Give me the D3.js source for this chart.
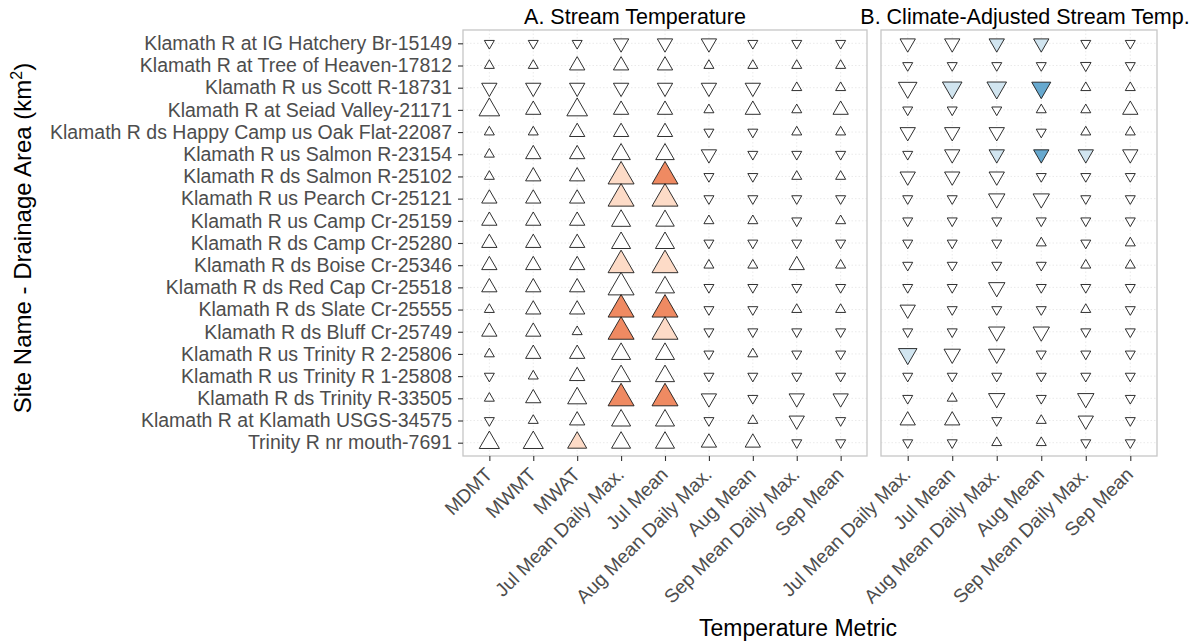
<!DOCTYPE html>
<html>
<head>
<meta charset="utf-8">
<script src="https://cdn.jsdelivr.net/npm/d3@7"></script>
<style>
  html, body { margin: 0; padding: 0; background: #fff; }
  svg { display: block; font-family: "Liberation Sans", Arial, sans-serif; }
</style>
</head>
<body>
<svg id="chart" width="1192" height="642"></svg>
<script>
const sites = [
  "Klamath R at IG Hatchery Br-15149",
  "Klamath R at Tree of Heaven-17812",
  "Klamath R us Scott R-18731",
  "Klamath R at Seiad Valley-21171",
  "Klamath R ds Happy Camp us Oak Flat-22087",
  "Klamath R us Salmon R-23154",
  "Klamath R ds Salmon R-25102",
  "Klamath R us Pearch Cr-25121",
  "Klamath R us Camp Cr-25159",
  "Klamath R ds Camp Cr-25280",
  "Klamath R ds Boise Cr-25346",
  "Klamath R ds Red Cap Cr-25518",
  "Klamath R ds Slate Cr-25555",
  "Klamath R ds Bluff Cr-25749",
  "Klamath R us Trinity R 2-25806",
  "Klamath R us Trinity R 1-25808",
  "Klamath R ds Trinity R-33505",
  "Klamath R at Klamath USGS-34575",
  "Trinity R nr mouth-7691"
];
const metricsA = ["MDMT","MWMT","MWAT","Jul Mean Daily Max.","Jul Mean","Aug Mean Daily Max.","Aug Mean","Sep Mean Daily Max.","Sep Mean"];
const metricsB = ["Jul Mean Daily Max.","Jul Mean","Aug Mean Daily Max.","Aug Mean","Sep Mean Daily Max.","Sep Mean"];

// signed trend magnitude: sign = direction, |value| = magnitude
const trendA = [
  [-1,-1,-1,-2,-2,-2,-1,-1,-1],
  [1,1,2,2,2,1,1,1,1],
  [-2,-2,-2,-2,-2,-2,-2,1,1],
  [3,2,3,2,2,1,2,1,2],
  [1,1,2,2,2,-1,-1,1,1],
  [1,2,2,2.6,2.6,-2,-1,-1,-1],
  [1,2,2,4,4,-1,-1,1,1],
  [2,2,2,4,4,-1,-1,-1,-1],
  [2,2,2,2.7,2.6,1,1,-1,1],
  [2,2,2,2.7,2.7,-1,-1,-1,-1],
  [2,2,2,4,4,1,1,2,1],
  [2,2,2,4,2.7,-1,-1,-1,-1],
  [1,2,2,4,4,-1,-1,1,1],
  [2,2,1,4,4,-1,-1,-1,-1],
  [1,2,2,2.7,2.7,-1,1,-1,-1],
  [-1,1,2,2.7,2.7,-1,-1,-1,-1],
  [1,2,2.7,4,4,-2,-1,-2,-2],
  [-1,1,2,2.7,2.7,-1,1,-2,-1],
  [2.9,2.9,2.7,2.7,2.7,2,2,-1,-1]
];
// significance class: 0 none, 1 weak, 2 strong
const sigA = [
  [0,0,0,0,0,0,0,0,0],
  [0,0,0,0,0,0,0,0,0],
  [0,0,0,0,0,0,0,0,0],
  [0,0,0,0,0,0,0,0,0],
  [0,0,0,0,0,0,0,0,0],
  [0,0,0,0,0,0,0,0,0],
  [0,0,0,1,2,0,0,0,0],
  [0,0,0,1,1,0,0,0,0],
  [0,0,0,0,0,0,0,0,0],
  [0,0,0,0,0,0,0,0,0],
  [0,0,0,1,1,0,0,0,0],
  [0,0,0,0,0,0,0,0,0],
  [0,0,0,2,2,0,0,0,0],
  [0,0,0,2,1,0,0,0,0],
  [0,0,0,0,0,0,0,0,0],
  [0,0,0,0,0,0,0,0,0],
  [0,0,0,2,2,0,0,0,0],
  [0,0,0,0,0,0,0,0,0],
  [0,0,1,0,0,0,0,0,0]
];
const trendB = [
  [-2,-2,-2,-2,-1,-1],
  [-1,-1,-1,-1,-1.1,-1],
  [-2.6,-2.8,-2.8,-2.7,1,1],
  [-1,-1,-1,1,1,2],
  [-2,-2,-2,-1,1,1],
  [-1,-2,-2,-2,-2,-2],
  [-2,-2,-2,-1,-1,-1],
  [-1,-1,-2.2,-2.2,-1,-1],
  [-1,-1,-1,-1,-1,-1],
  [-1,-1,-1,1,-1,1],
  [-1,-1,-1,-1,1,1],
  [-1,-1,-2.2,-1,-1,-1],
  [-2,-1,-1,-1,1,-1],
  [-1,-1,-2.2,-2.2,-1,-1],
  [-2.6,-2.2,-2.2,-1,-1,-1],
  [-1,-1,-1,-1,-1,-1],
  [-1,1,-2.2,-1,-2.2,-1],
  [2,2,-1,1,-2,-1],
  [-1,-1,1,1,-1,-1]
];
const sigB = [
  [0,0,1,1,0,0],
  [0,0,0,0,0,0],
  [0,1,1,2,0,0],
  [0,0,0,0,0,0],
  [0,0,0,0,0,0],
  [0,0,1,2,1,0],
  [0,0,0,0,0,0],
  [0,0,0,0,0,0],
  [0,0,0,0,0,0],
  [0,0,0,0,0,0],
  [0,0,0,0,0,0],
  [0,0,0,0,0,0],
  [0,0,0,0,0,0],
  [0,0,0,0,0,0],
  [1,0,0,0,0,0],
  [0,0,0,0,0,0],
  [0,0,0,0,0,0],
  [0,0,0,0,0,0],
  [0,0,0,0,0,0]
];
const titles = ["A. Stream Temperature", "B. Climate-Adjusted Stream Temp."];

const svg = d3.select("#chart");
const plotTop = 30, plotBottom = 456;
const panels = [
  {x0: 463, x1: 867, metrics: metricsA, trend: trendA, sig: sigA, title: titles[0], titleX: 635},
  {x0: 881, x1: 1157, metrics: metricsB, trend: trendB, sig: sigB, title: titles[1], titleX: 1025}
];

const y = d3.scalePoint().domain(sites).range([plotTop, plotBottom]).padding(0.6);
const widthScale = d3.scaleLinear().domain([1, 4]).range([10, 26]);
const fillUp = ["#ffffff", "#fddbc7", "#ef8a62"];
const fillDown = ["#ffffff", "#d1e5f0", "#67a9cf"];
const sym = d3.symbol().type(d3.symbolTriangle);

panels.forEach((p) => {
  const x = d3.scalePoint().domain(p.metrics).range([p.x0, p.x1]).padding(0.6);
  const g = svg.append("g");
  g.append("rect").attr("x", p.x0).attr("y", plotTop).attr("width", p.x1 - p.x0).attr("height", plotBottom - plotTop)
    .attr("fill", "#fff");
  g.selectAll(".gh").data(sites).enter().append("line")
    .attr("x1", p.x0).attr("x2", p.x1).attr("y1", d => y(d)).attr("y2", d => y(d))
    .attr("stroke", "#e4e4e4").attr("stroke-width", 0.8).attr("stroke-dasharray", "1.5,2");
  g.selectAll(".gv").data(p.metrics).enter().append("line")
    .attr("y1", plotTop).attr("y2", plotBottom).attr("x1", d => x(d)).attr("x2", d => x(d))
    .attr("stroke", "#e4e4e4").attr("stroke-width", 0.8).attr("stroke-dasharray", "1.5,2");
  const pts = [];
  sites.forEach((s, i) => p.metrics.forEach((m, j) => {
    pts.push({s, m, v: p.trend[i][j], sg: p.sig[i][j]});
  }));
  g.selectAll(".pt").data(pts).enter().append("path")
    .attr("d", d => { const w = widthScale(Math.abs(d.v)); return sym.size(Math.sqrt(3) / 4 * w * w)(); })
    .attr("transform", d => `translate(${x(d.m)},${y(d.s)})` + (d.v < 0 ? " rotate(180)" : ""))
    .attr("fill", d => d.v < 0 ? fillDown[d.sg] : fillUp[d.sg])
    .attr("stroke", "#1a1a1a").attr("stroke-width", 0.9);
  g.append("rect").attr("x", p.x0).attr("y", plotTop).attr("width", p.x1 - p.x0).attr("height", plotBottom - plotTop)
    .attr("fill", "none").attr("stroke", "#c6c6c6").attr("stroke-width", 1.3);
  const xa = svg.append("g").attr("transform", `translate(0,${plotBottom})`)
    .call(d3.axisBottom(x).tickSize(5).tickPadding(0));
  xa.select(".domain").remove();
  xa.selectAll(".tick line").attr("stroke", "#333").attr("stroke-width", 1.1);
  xa.selectAll(".tick text")
    .attr("font-size", 19.2).attr("fill", "#4d4d4d").attr("font-family", "Liberation Sans, Arial, sans-serif")
    .attr("text-anchor", "end").attr("dy", null).attr("y", 0)
    .attr("transform", "translate(-6,10) rotate(-45)")
    .attr("dominant-baseline", "hanging");
  svg.append("text").attr("x", p.titleX).attr("y", 24).attr("text-anchor", "middle")
    .attr("font-size", 21.5).attr("fill", "#000").text(p.title);
});

const ya = svg.append("g").attr("transform", `translate(463,0)`)
  .call(d3.axisLeft(y).tickSize(5).tickPadding(6));
ya.select(".domain").remove();
ya.selectAll(".tick line").attr("stroke", "#333").attr("stroke-width", 1.1);
ya.selectAll(".tick text").attr("font-size", 19.5).attr("fill", "#4d4d4d")
  .attr("font-family", "Liberation Sans, Arial, sans-serif");

svg.append("text").attr("x", 798).attr("y", 636).attr("text-anchor", "middle")
  .attr("font-size", 23).attr("fill", "#000").text("Temperature Metric");
const yt = svg.append("text").attr("transform", "translate(31,238) rotate(-90)").attr("text-anchor", "middle")
  .attr("font-size", 24).attr("fill", "#000");
yt.append("tspan").text("Site Name - Drainage Area (km");
yt.append("tspan").attr("font-size", 16).attr("dy", -9).text("2");
yt.append("tspan").attr("dy", 9).text(")");
</script>
</body>
</html>
